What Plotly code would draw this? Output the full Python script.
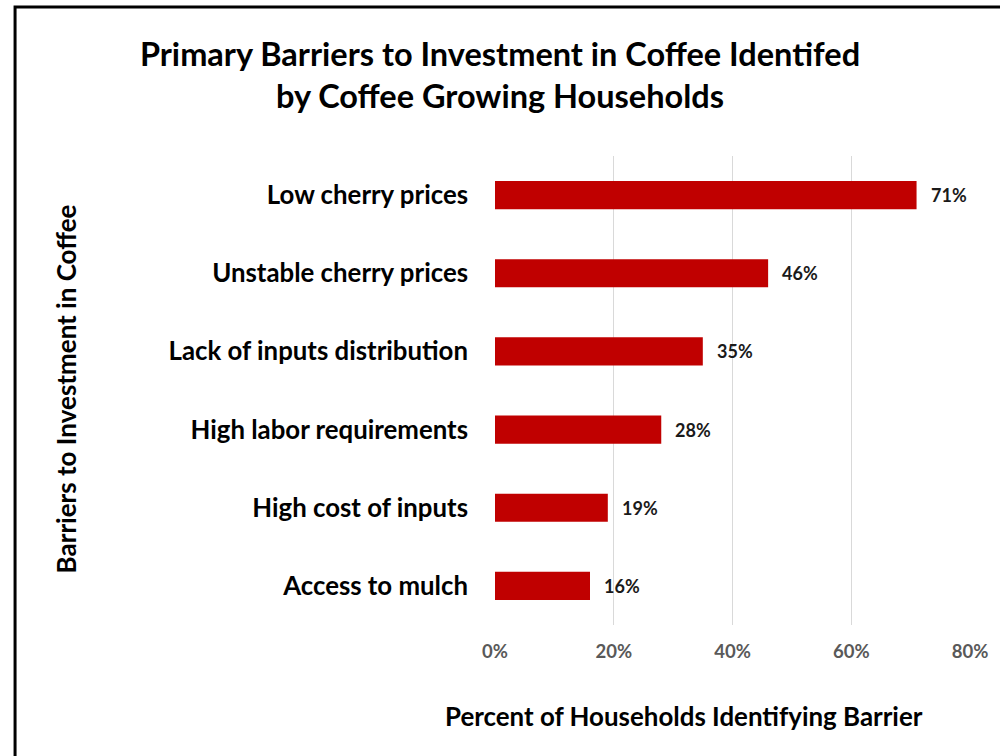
import plotly.graph_objects as go

# Barriers reported by coffee growing households (share of households)
categories = [
    "Low cherry prices",
    "Unstable cherry prices",
    "Lack of inputs distribution",
    "High labor requirements",
    "High cost of inputs",
    "Access to mulch",
]
values = [0.71, 0.46, 0.35, 0.28, 0.19, 0.16]
labels = ["71%", "46%", "35%", "28%", "19%", "16%"]
tick_vals = [0, 0.2, 0.4, 0.6, 0.8]
tick_text = ["0%", "20%", "40%", "60%", "80%"]

FONT = "Lato, 'Open Sans', sans-serif"

W, H = 1000, 756
ML, MR, MT, MB = 495, 24, 156, 131
PW, PH = W - ML - MR, H - MT - MB


def px_x(p):
    return (p - ML) / PW


def px_y(p):
    return (H - MB - p) / PH


fig = go.Figure(
    go.Bar(
        x=values,
        y=categories,
        orientation="h",
        marker=dict(color="#C00000", line=dict(width=0)),
        width=0.36,
        cliponaxis=False,
    )
)

# value labels sitting just right of each bar end
value_notes = [
    dict(
        x=v,
        y=c,
        xref="x",
        yref="y",
        text=t,
        xanchor="left",
        yanchor="middle",
        xshift=12,
        showarrow=False,
        font=dict(family=FONT, size=18, color="#1a1a1a", weight="bold"),
    )
    for v, c, t in zip(values, categories, labels)
]

fig.update_layout(
    width=W,
    height=H,
    margin=dict(l=ML, r=MR, t=MT, b=MB),
    paper_bgcolor="white",
    plot_bgcolor="white",
    showlegend=False,
    title=dict(
        text="Primary Barriers to Investment in Coffee Identifed<br>by Coffee Growing Households",
        x=0.5,
        xanchor="center",
        y=1 - 66 / H,
        yanchor="middle",
        font=dict(family=FONT, size=32.5, color="black", weight="bold"),
    ),
    xaxis=dict(
        range=[0, 0.8],
        tickvals=tick_vals,
        ticktext=tick_text,
        showgrid=True,
        gridcolor="#D9D9D9",
        gridwidth=1,
        zeroline=False,
        showline=False,
        ticks="",
        ticklabelstandoff=13,
        tickfont=dict(family=FONT, size=18.5, color="#595959", weight="bold"),
        fixedrange=True,
    ),
    yaxis=dict(
        categoryorder="array",
        categoryarray=categories[::-1],
        showgrid=False,
        zeroline=False,
        showline=False,
        ticks="",
        ticklabelstandoff=26,
        tickfont=dict(family=FONT, size=25.8, color="black", weight="bold"),
        fixedrange=True,
    ),
    annotations=value_notes
    + [
        dict(
            text="Percent of Households Identifying Barrier",
            xref="paper",
            yref="paper",
            x=px_x(686),
            y=px_y(716),
            xanchor="center",
            yanchor="middle",
            showarrow=False,
            font=dict(family=FONT, size=25.9, color="black", weight="bold"),
        ),
        dict(
            text="Barriers to Investment in Coffee",
            xref="paper",
            yref="paper",
            x=px_x(61),
            y=px_y(389),
            xanchor="center",
            yanchor="middle",
            textangle=-90,
            showarrow=False,
            font=dict(family=FONT, size=26, color="black", weight="bold"),
        ),
    ],
    shapes=[
        dict(
            type="rect",
            xref="paper",
            yref="paper",
            x0=px_x(9),
            x1=px_x(1020),
            y0=px_y(7),
            y1=px_y(780),
            line=dict(color="black", width=3),
            fillcolor="rgba(0,0,0,0)",
            layer="above",
        )
    ],
)

fig.write_html("out.html")
